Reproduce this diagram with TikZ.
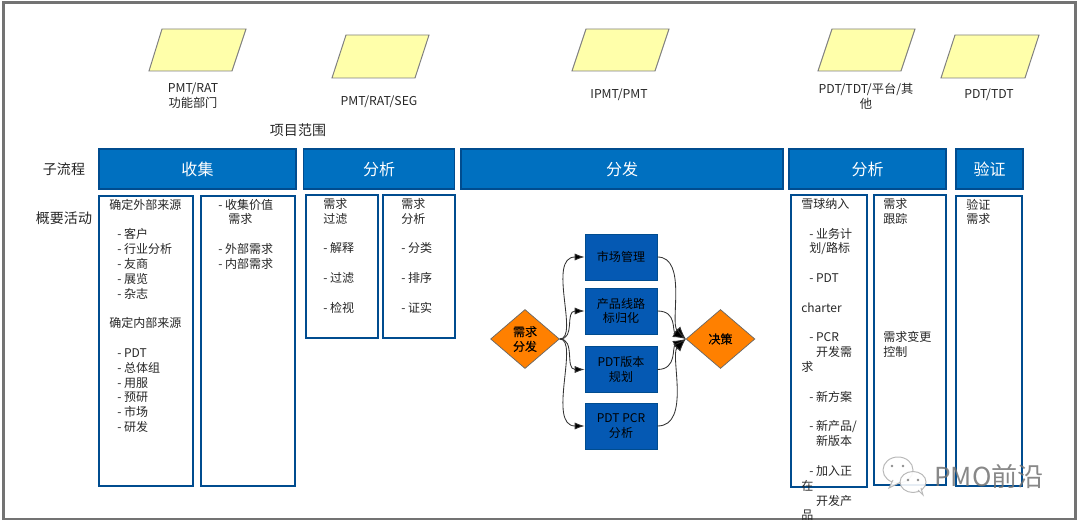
\documentclass[tikz,border=0pt]{standalone}
\usepackage{fontspec}
\setmainfont{Noto Sans CJK SC}
\newfontfamily\gatefont[FakeBold=0.25]{Noto Sans CJK SC}
\usepackage{xcolor}
\usetikzlibrary{arrows.meta,shapes.geometric}
\definecolor{headblue}{HTML}{0070C0}
\definecolor{lineblue}{HTML}{004C8F}
\definecolor{stepblue}{HTML}{0559B3}
\definecolor{roleyellow}{HTML}{FFFFAA}
\definecolor{gateorange}{HTML}{FF8000}
\definecolor{inkgray}{HTML}{262626}
\newcommand{\ind}{\hspace*{0.2cm}}
\newcommand{\indd}{\hspace*{0.37cm}}
\tikzset{
  rolebox/.style={draw=gray, fill=roleyellow, line width=0.7pt},
  rolelabel/.style={text=inkgray, align=center, inner sep=0pt, font=\fontsize{8.7}{10.5}\selectfont},
  rowlabel/.style={text=inkgray, inner sep=0pt, font=\fontsize{9.96}{12}\selectfont},
  headbox/.style={draw=lineblue, fill=headblue, text=white, line width=0.9pt, minimum height=1cm,
                  inner sep=0pt, font=\fontsize{11.38}{13}\selectfont},
  actbox/.style={draw=lineblue, line width=1pt},
  acttext/.style={anchor=north west, text=inkgray, align=left, inner sep=0pt,
                  font=\fontsize{8.54}{10.55}\selectfont},
  stepbox/.style={draw=lineblue, fill=stepblue, text=black, align=center, line width=0.6pt,
                  minimum width=1.8cm, minimum height=1.15cm, inner sep=0pt,
                  font=\fontsize{8.54}{10.5}\selectfont},
  gate/.style={diamond, shape aspect=1.15, draw=black!60, fill=gateorange, text=black, align=center,
               line width=0.5pt, minimum width=1.72cm, minimum height=1.475cm, inner sep=0pt,
               font=\gatefont\fontsize{8.54}{10.5}\selectfont},
  flow/.style={draw=black!80, line width=0.6pt, -{Latex[length=7pt,width=5pt,fill=black]}},
  backflow/.style={draw=black!80, line width=0.6pt, -{Latex[length=9pt,width=7pt,fill=black]}}
}
\begin{document}
\begin{tikzpicture}[x=0.025cm, y=-0.025cm]
\useasboundingbox (0,0) rectangle (1080,525);
\draw[draw=black!55, line width=1.5pt] (3.5,2.5) rectangle (1075.5,519);

% role shapes on top
\draw[rolebox] (162,29) -- (246,29) -- (232,71) -- (149,71) -- cycle;
\draw[rolebox] (346,35) -- (429,35) -- (415,78) -- (332,78) -- cycle;
\draw[rolebox] (586,29) -- (669,29) -- (655,71) -- (572,71) -- cycle;
\draw[rolebox] (832,29) -- (915,29) -- (901,71) -- (818,71) -- cycle;
\draw[rolebox] (955,35) -- (1039,35) -- (1025,78) -- (941,78) -- cycle;

\node[rolelabel] (roleA) at (193,96) {PMT/RAT\\功能部门};
\node[rolelabel] (roleB) at (379,102) {PMT/RAT/SEG};
\node[rolelabel] (roleC) at (619,95) {IPMT/PMT};
\node[rolelabel] (roleD) at (866,96) {PDT/TDT/平台/其\\他};
\node[rolelabel] (roleE) at (989,95) {PDT/TDT};

\node[rowlabel] (scope) at (298,130) {项目范围};
\node[rowlabel] (subflow) at (64,169) {子流程};
\node[rowlabel] (summary) at (64,218) {概要活动};

% sub-process headers
\node[headbox, minimum width=4.925cm] (collect) at (197.5,169) {收集};
\node[headbox, minimum width=3.76cm] (analyseA) at (379,169) {分析};
\node[headbox, minimum width=8.05cm] (dispatch) at (622,169) {分发};
\node[headbox, minimum width=3.925cm] (analyseB) at (867.5,169) {分析};
\node[headbox, minimum width=1.675cm] (verify) at (989.5,169) {验证};

% activity columns
\draw[actbox] (99,196) rectangle (193,486);
\draw[actbox] (201,196) rectangle (295,486);
\draw[actbox] (306,195) rectangle (378,338);
\draw[actbox] (383,195) rectangle (455,338);
\draw[actbox] (791,195) rectangle (867,487);
\draw[actbox] (874,195) rectangle (946,485);
\draw[actbox] (956,196) rectangle (1022,486);

\node[acttext] (colA) at (109,198.6) {确定外部来源\\[10.55pt]
  \ind- 客户\\ \ind- 行业分析\\ \ind- 友商\\ \ind- 展览\\ \ind- 杂志\\[10.55pt]
  确定内部来源\\[10.55pt]
  \ind- PDT\\ \ind- 总体组\\ \ind- 用服\\ \ind- 预研\\ \ind- 市场\\ \ind- 研发};
\node[acttext] (colB) at (218,198.6) {- 收集价值\\ \ind\,需求\\[10.55pt]
  - 外部需求\\ - 内部需求};
\node[acttext] (colC) at (323,198) {需求\\ 过滤\\[10.55pt] - 解释\\[10.55pt] - 过滤\\[10.55pt] - 检视};
\node[acttext] (colD) at (401,198) {需求\\ 分析\\[10.55pt] - 分类\\[10.55pt] - 排序\\[10.55pt] - 证实};
\node[acttext] (colE) at (801,198) {雪球纳入\\[10.55pt]
  \ind- 业务计\\ \ind 划/路标\\[10.55pt]
  \ind- PDT\\[10.55pt]
  charter\\[10.55pt]
  \ind- PCR\\ \indd 开发需\\ 求\\[10.55pt]
  \ind- 新方案\\[10.55pt]
  \ind- 新产品/\\ \indd 新版本\\[10.55pt]
  \ind- 加入正\\ 在\\ \indd 开发产\\ 品};
\node[acttext] (colF) at (883,198) {需求\\ 跟踪};
\node[acttext] (colG) at (883,331) {需求变更\\ 控制};
\node[acttext] (colH) at (966,198.6) {验证\\ 需求};

% dispatch flow
\node[gate] (demand) at (525,339) {需求\\分发};
\node[gate] (decide) at (720.5,339) {决策};
\node[stepbox] (market) at (621,257) {市场管理};
\node[stepbox] (lineplan) at (621,311) {产品线路\\标归化};
\node[stepbox] (version) at (621,369.5) {PDT版本\\规划};
\node[stepbox] (pcr) at (621,426) {PDT PCR\\分析};

\draw[flow] (demand.east) .. controls +(20,0) and +(-38,0) .. (market.west);
\draw[flow] (demand.east) .. controls +(16,0) and +(-20,0) .. (lineplan.west);
\draw[flow] (demand.east) .. controls +(16,0) and +(-20,0) .. (version.west);
\draw[flow] (demand.east) .. controls +(20,0) and +(-38,0) .. (pcr.west);

\draw[backflow] (market.east) .. controls +(30,0) and +(-16,-16) .. (decide.west);
\draw[backflow] (lineplan.east) .. controls +(20,0) and +(-14,-8) .. (decide.west);
\draw[backflow] (version.east) .. controls +(20,0) and +(-14,8) .. (decide.west);
\draw[backflow] (pcr.east) .. controls +(34,0) and +(-16,16) .. (decide.west);

% mark in the lower right corner
\begin{scope}[draw=black!30, fill=white, line width=0.7pt, opacity=0.9]
  \filldraw (898,470) ellipse (15 and 13);
  \filldraw (893,480) -- (889,488) -- (901,482);
  \filldraw (913,482) ellipse (13 and 10.5);
  \filldraw (918,490) -- (923,495) -- (921,488);
\end{scope}
\fill[black!45] (892,466) circle (1.3) (903,466) circle (1.3) (908,480) circle (1.3) (918,480) circle (1.3);
\node[text=black!55, opacity=0.85, inner sep=0pt, font=\fontsize{18.6}{20}\selectfont] (wmark) at (989,477) {PMO前沿};
\end{tikzpicture}
\end{document}
